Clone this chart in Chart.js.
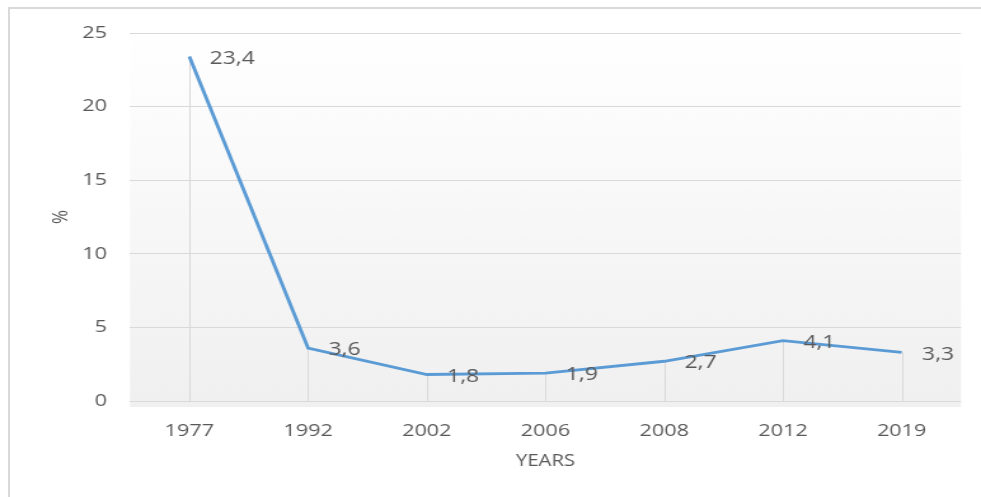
<!DOCTYPE html>
<html>
<head>
<meta charset="utf-8">
<script src="https://cdn.jsdelivr.net/npm/chart.js@4/dist/chart.umd.min.js"></script>
<style>
  html, body { margin: 0; padding: 0; background: #ffffff; overflow: hidden; }
  body { width: 981px; height: 497px; position: relative; }
  #frame {
    position: absolute; left: 8px; top: 7px; width: 1200px; height: 800px;
    border-left: 2px solid #d9d9d9; border-top: 2px solid #d9d9d9;
  }
  /* the chart is drawn on a narrower canvas and widened horizontally */
  #wrap {
    position: absolute; left: 0; top: 0; width: 772px; height: 497px;
    transform: scaleX(1.2707); transform-origin: 0 0;
  }
</style>
</head>
<body>
<div id="frame"></div>
<div id="wrap"><canvas id="chart" width="772" height="497"></canvas></div>
<script>
const years = ['1977', '1992', '2002', '2006', '2008', '2012', '2019'];
const rates = [23.4, 3.6, 1.8, 1.9, 2.7, 4.1, 3.3];
const yTicks = [0, 5, 10, 15, 20, 25];

const TEXT = '#595959';
const FONT = '"Open Sans", "Liberation Sans", sans-serif';

const fmt = v => v.toFixed(1).replace('.', ',');

// soft vertical gradient behind the plotting area
const plotBackground = {
  id: 'plotBackground',
  beforeDraw(chart) {
    const { ctx, chartArea: a } = chart;
    const g = ctx.createLinearGradient(0, a.top, 0, a.bottom);
    g.addColorStop(0, '#ffffff');
    g.addColorStop(1, '#f0f0f0');
    ctx.save();
    ctx.fillStyle = g;
    ctx.fillRect(a.left, a.top - 6, a.right - a.left, a.bottom - a.top + 12);
    ctx.restore();
  }
};

// drop lines from each point down to the zero line
const dropLines = {
  id: 'dropLines',
  beforeDatasetsDraw(chart) {
    const { ctx } = chart;
    const y0 = chart.scales.y.getPixelForValue(0);
    ctx.save();
    ctx.strokeStyle = '#d9d9d9';
    ctx.lineWidth = 1;
    chart.getDatasetMeta(0).data.forEach(pt => {
      const x = Math.round(pt.x) + 0.5;
      ctx.beginPath();
      ctx.moveTo(x, pt.y);
      ctx.lineTo(x, y0);
      ctx.stroke();
    });
    ctx.restore();
  }
};

// value labels to the right of each point
const valueLabels = {
  id: 'valueLabels',
  afterDatasetsDraw(chart) {
    const { ctx } = chart;
    const ds = chart.data.datasets[0];
    ctx.save();
    ctx.fillStyle = TEXT;
    ctx.font = '18px ' + FONT;
    ctx.textAlign = 'left';
    ctx.textBaseline = 'middle';
    chart.getDatasetMeta(0).data.forEach((pt, i) => {
      ctx.fillText(fmt(ds.data[i]), pt.x + 16, pt.y + 2);
    });
    ctx.restore();
  }
};

new Chart(document.getElementById('chart'), {
  type: 'line',
  data: {
    labels: years,
    datasets: [{
      data: rates,
      borderColor: '#5b9bd5',
      borderWidth: 2.8,
      pointRadius: 0,
      pointHoverRadius: 0,
      tension: 0,
      fill: false
    }]
  },
  options: {
    responsive: false,
    animation: false,
    devicePixelRatio: 1,
    layout: { padding: { left: 0, top: 33, right: 15.7, bottom: 0 } },
    plugins: {
      legend: { display: false },
      tooltip: { enabled: false }
    },
    scales: {
      x: {
        offset: true,
        grid: { display: false, drawTicks: false },
        border: { display: false },
        ticks: {
          color: TEXT,
          font: { family: FONT, size: 17 },
          padding: 20,
          maxRotation: 0
        },
        title: {
          display: true,
          text: 'YEARS',
          color: TEXT,
          font: { family: FONT, size: 16 },
          padding: { top: 0, bottom: 25.5 }
        },
        afterFit(scale) { scale.height = 96; }
      },
      y: {
        min: 0,
        max: 25,
        afterBuildTicks(scale) { scale.ticks = yTicks.map(v => ({ value: v })); },
        grid: { color: '#d9d9d9', lineWidth: 1, drawTicks: false },
        border: { display: false },
        ticks: {
          color: TEXT,
          font: { family: FONT, size: 17 },
          padding: 18
        },
        title: {
          display: true,
          text: '%',
          color: TEXT,
          font: { family: FONT, size: 17 },
          padding: { top: 37.5, bottom: 0 }
        },
        afterFit(scale) { scale.width = 102.3; }
      }
    }
  },
  plugins: [plotBackground, dropLines, valueLabels]
});
</script>
</body>
</html>
